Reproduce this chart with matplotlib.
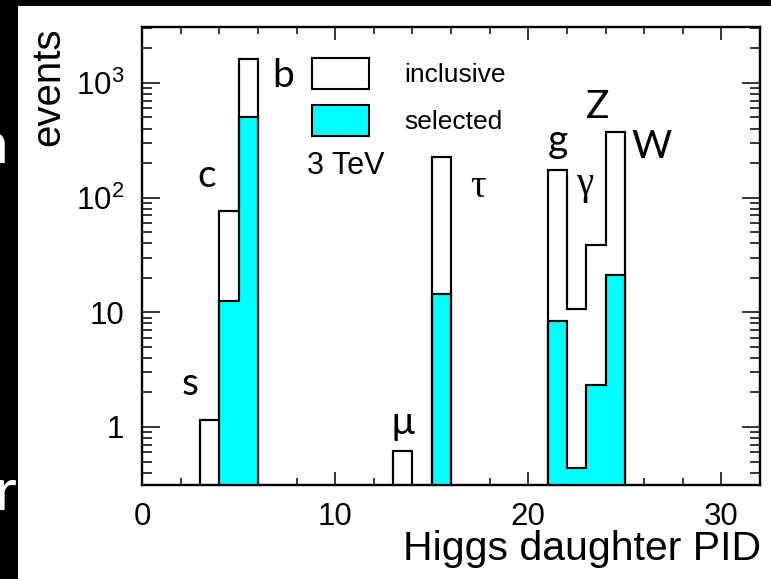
import matplotlib
matplotlib.use("Agg")
import matplotlib.pyplot as plt
from matplotlib.patches import Rectangle
from matplotlib.ticker import FixedLocator, FixedFormatter, LogLocator, MultipleLocator, NullFormatter
import numpy as np

plt.rcParams['font.family'] = ['Liberation Sans', 'DejaVu Sans']
plt.rcParams['mathtext.fontset'] = 'custom'
plt.rcParams['mathtext.rm'] = 'Liberation Sans'

# Higgs daughter PID bins (bin [pid, pid+1))
pids = [3, 4, 5, 13, 15, 21, 22, 23, 24]
names = ['s', 'c', 'b', 'µ', 'τ', 'g', 'γ', 'Z', 'W']
inclusive = [1.15, 77, 1630, 0.62, 227, 173, 10.6, 38.4, 374]
selected = [0, 12.6, 508, 0, 14.4, 8.4, 0.44, 2.3, 21]

edges = np.arange(0, 33)
incl_full = np.zeros(32)
sel_full = np.zeros(32)
incl_full[pids] = inclusive
sel_full[pids] = selected

W, H = 771, 579
fig = plt.figure(figsize=(W / 100, H / 100), dpi=100)
fig.patch.set_facecolor('black')
fig.patches.append(Rectangle((18 / W, 0), 1, 1 - 6 / H, transform=fig.transFigure,
                             facecolor='white', edgecolor='none', zorder=-5))
# leftovers of the slide behind the plot (cut off in the original too)
fig.text(8 / W, (H - 163) / H, 'n', color='white', fontsize=42, ha='right', va='baseline',
         family=['Lato', 'DejaVu Sans'])
fig.text(17 / W, (H - 510) / H, 'rr', color='white', fontsize=42, ha='right', va='baseline',
         family=['Lato', 'DejaVu Sans'])

ax = fig.add_axes([142 / W, 94 / H, 618 / W, 458 / H])
ax.set_yscale('log')

h_incl = ax.stairs(incl_full, edges, fill=True, facecolor='white', edgecolor='black',
                   linewidth=1.5, baseline=0, zorder=2)
h_sel = ax.stairs(sel_full, edges, fill=True, facecolor='#00ffff', edgecolor='black',
                  linewidth=1.5, baseline=0, zorder=3)
# ROOT draws the outline on top of the fill
ax.stairs(incl_full, edges, fill=False, edgecolor='black', linewidth=1.5, baseline=0, zorder=4)
ax.stairs(sel_full, edges, fill=False, edgecolor='black', linewidth=1.5, baseline=0, zorder=4)

ax.set_xlim(0, 32)
ax.set_ylim(0.312, 3070)

ax.xaxis.set_major_locator(MultipleLocator(10))
ax.xaxis.set_minor_locator(MultipleLocator(2))
ax.yaxis.set_major_locator(FixedLocator([1, 10, 100, 1000]))
ax.yaxis.set_major_formatter(FixedFormatter(['1', '10', r'$\mathregular{10^{2}}$', r'$\mathregular{10^{3}}$']))
ax.yaxis.set_minor_locator(LogLocator(base=10, subs=np.arange(2, 10), numticks=20))
ax.yaxis.set_minor_formatter(NullFormatter())

ax.tick_params(which='both', direction='in', top=True, right=True, width=1.1, labelsize=22.5)
ax.tick_params(axis='x', which='major', length=9.5, pad=12)
ax.tick_params(axis='x', which='minor', length=5)
ax.tick_params(axis='y', which='major', length=13, pad=13)
ax.tick_params(axis='y', which='minor', length=7)
for s in ax.spines.values():
    s.set_linewidth(1.7)
    s.set_zorder(6)

ax.set_xlabel('Higgs daughter PID', fontsize=29.5, loc='right')
ax.xaxis.set_label_coords(1.002, -0.098)
ax.text(-0.152, 1.0, 'events', transform=ax.transAxes, rotation=90, fontsize=29,
        ha='center', va='top')

# particle labels
label_x = [2.49, 3.37, 7.3, 13.5, 17.4, 21.55, 22.9, 23.58, 26.4]
label_y = [2.37, 154, 1150, 1.08, 123, 312, 129, 617, 276]
for n, lx, ly in zip(names, label_x, label_y):
    if n in ('τ', 'γ'):
        fam = ['Liberation Serif', 'DejaVu Serif']
    else:
        fam = ['Lato', 'DejaVu Sans']
    ax.text(lx, ly, n, fontsize=28, family=fam, ha='center', va='center', zorder=7)

ax.text(10.57, 188, '3 TeV', fontsize=22, ha='center', va='center', zorder=7)

leg = ax.legend([h_incl, h_sel], ['inclusive', 'selected'], loc='upper left',
                bbox_to_anchor=((312 - 142) / 618, (485 - 58) / 458), frameon=False,
                fontsize=19, handlelength=2.16, handleheight=1.42, handletextpad=1.33,
                labelspacing=0.62, borderpad=0, borderaxespad=0)

fig.savefig('out.png', dpi=100, facecolor=fig.get_facecolor())
